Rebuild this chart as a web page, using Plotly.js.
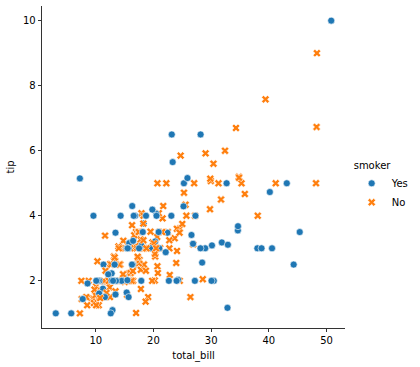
<!DOCTYPE html>
<html><head><meta charset="utf-8">
<script src="https://cdn.plot.ly/plotly-3.0.1.min.js"></script>
<style>html,body{margin:0;padding:0;background:#fff}#chart{width:420px;height:367px}</style>
</head><body><div id="chart"></div>
<script>
const totalBill = [16.99,10.34,21.01,23.68,24.59,25.29,8.77,26.88,15.04,14.78,
10.27,35.26,15.42,18.43,14.83,21.58,10.33,16.29,16.97,20.65,
17.92,20.29,15.77,39.42,19.82,17.81,13.37,12.69,21.7,19.65,
9.55,18.35,15.06,20.69,17.78,24.06,16.31,16.93,18.69,31.27,
16.04,17.46,13.94,9.68,30.4,18.29,22.23,32.4,28.55,18.04,
12.54,10.29,34.81,9.94,25.56,19.49,38.01,26.41,11.24,48.27,
20.29,13.81,11.02,18.29,17.59,20.08,16.45,3.07,20.23,15.01,
12.02,17.07,26.86,25.28,14.73,10.51,17.92,27.2,22.76,17.29,
19.44,16.66,10.07,32.68,15.98,34.83,13.03,18.28,24.71,21.16,
28.97,22.49,5.75,16.32,22.75,40.17,27.28,12.03,21.01,12.46,
11.35,15.38,44.3,22.42,20.92,15.36,20.49,25.21,18.24,14.31,
14.0,7.25,38.07,23.95,25.71,17.31,29.93,10.65,12.43,24.08,
11.69,13.42,14.26,15.95,12.48,29.8,8.52,14.52,11.38,22.82,
19.08,20.27,11.17,12.26,18.26,8.51,10.33,14.15,16.0,13.16,
17.47,34.3,41.19,27.05,16.43,8.35,18.64,11.87,9.78,7.51,
14.07,13.13,17.26,24.55,19.77,29.85,48.17,25.0,13.39,16.49,
21.5,12.66,16.21,13.81,17.51,24.52,20.76,31.71,10.59,10.63,
50.81,15.81,7.25,31.85,16.82,32.9,17.89,14.48,9.6,34.63,
34.65,23.33,45.35,23.17,40.55,20.69,20.9,30.46,18.15,23.1,
15.69,19.81,28.44,15.48,16.58,7.56,10.34,43.11,13.0,13.51,
18.71,12.74,13.0,16.4,20.53,16.47,26.59,38.73,24.27,12.76,
30.06,25.89,48.33,13.27,28.17,12.9,28.15,11.59,7.74,30.14,
12.16,13.42,8.58,15.98,13.42,16.27,10.09,20.45,13.28,22.12,
24.01,15.69,11.61,10.77,15.53,10.07,12.6,32.83,35.83,29.03,
27.18,22.67,17.82,18.78];
const tip = [1.01,1.66,3.5,3.31,3.61,4.71,2.0,3.12,1.96,3.23,
1.71,5.0,1.57,3.0,3.02,3.92,1.67,3.71,3.5,3.35,
4.08,2.75,2.23,7.58,3.18,2.34,2.0,2.0,4.3,3.0,
1.45,2.5,3.0,2.45,3.27,3.6,2.0,3.07,2.31,5.0,
2.24,2.54,3.06,1.32,5.6,3.0,5.0,6.0,2.05,3.0,
2.5,2.6,5.2,1.56,4.34,3.51,3.0,1.5,1.76,6.73,
3.21,2.0,1.98,3.76,2.64,3.15,2.47,1.0,2.01,2.09,
1.97,3.0,3.14,5.0,2.2,1.25,3.08,4.0,3.0,2.71,
3.0,3.4,1.83,5.0,2.03,5.17,2.0,4.0,5.85,3.0,
3.0,3.5,1.0,4.3,3.25,4.73,4.0,1.5,3.0,1.5,
2.5,3.0,2.5,3.48,4.08,1.64,4.06,4.29,3.76,4.0,
3.0,1.0,4.0,2.55,4.0,3.5,5.07,1.5,1.8,2.92,
2.31,1.68,2.5,2.0,2.52,4.2,1.48,2.0,2.0,2.18,
1.5,2.83,1.5,2.0,3.25,1.25,2.0,2.0,2.0,2.75,
3.5,6.7,5.0,5.0,2.3,1.5,1.36,1.63,1.73,2.0,
2.5,2.0,2.74,2.0,2.0,5.14,5.0,3.75,2.61,2.0,
3.5,2.5,2.0,2.0,3.0,3.48,2.24,4.5,1.61,2.0,
10.0,3.16,5.15,3.18,4.0,3.11,2.0,2.0,4.0,3.55,
3.68,5.65,3.5,6.5,3.0,5.0,3.5,2.0,3.5,4.0,
1.5,4.19,2.56,2.02,4.0,1.44,2.0,5.0,2.0,2.0,
4.0,2.01,2.0,2.5,4.0,3.23,3.41,3.0,2.03,2.23,
2.0,5.16,9.0,2.5,6.5,1.1,3.0,1.5,1.44,3.09,
2.2,3.48,1.92,3.0,1.58,2.5,2.0,3.0,2.72,2.88,
2.0,3.0,3.39,1.47,3.0,1.25,1.0,1.17,4.67,5.92,
2.0,2.0,1.75,3.0];
const smoker = [
"No","No","No","No","No","No","No","No","No","No",
"No","No","No","No","No","No","No","No","No","No",
"No","No","No","No","No","No","No","No","No","No",
"No","No","No","No","No","No","No","No","No","No",
"No","No","No","No","No","No","No","No","No","No",
"No","No","No","No","No","No","Yes","No","Yes","No",
"Yes","Yes","Yes","Yes","No","No","No","Yes","No","Yes",
"No","No","Yes","Yes","No","No","Yes","No","No","No",
"Yes","No","No","Yes","No","No","No","No","No","No",
"Yes","No","Yes","Yes","No","Yes","Yes","Yes","Yes","No",
"Yes","Yes","Yes","Yes","No","Yes","Yes","Yes","No","Yes",
"No","No","No","No","No","No","No","No","No","No",
"No","No","No","No","No","No","No","No","No","No",
"No","No","No","No","No","No","No","No","Yes","No",
"No","No","No","No","No","No","No","No","No","No",
"No","No","No","No","No","No","No","No","No","No",
"No","No","No","No","Yes","No","No","No","Yes","Yes",
"Yes","Yes","Yes","Yes","Yes","Yes","Yes","Yes","Yes","Yes",
"Yes","Yes","Yes","Yes","Yes","No","Yes","Yes","Yes","Yes",
"Yes","Yes","Yes","Yes","Yes","No","Yes","Yes","Yes","Yes",
"Yes","Yes","Yes","Yes","Yes","Yes","Yes","Yes","Yes","Yes",
"Yes","Yes","No","Yes","Yes","Yes","Yes","Yes","Yes","Yes",
"Yes","Yes","Yes","No","Yes","Yes","Yes","No","No","Yes",
"Yes","Yes","No","No","Yes","No","Yes","Yes","No","No",
"Yes","Yes","No","No"];
const hueOrder = ["Yes","No"];
const xTicks = [10,20,30,40,50];
const yTicks = [2,4,6,8,10];

const colorMap = {Yes:"#1f77b4", No:"#ff7f0e"};
const symbolMap = {Yes:"circle", No:"x"};
const font = {family:"DejaVu Sans, sans-serif", size:10, color:"#000"};

const traces = [{
  type:"scatter", mode:"markers", x:totalBill, y:tip, showlegend:false, hoverinfo:"skip",
  marker:{size:7, color:smoker.map(s=>colorMap[s]), symbol:smoker.map(s=>symbolMap[s]),
          line:{color:"#fff", width:0.6}}
}];
hueOrder.forEach(h=>traces.push({
  type:"scatter", mode:"markers", x:[null], y:[null], name:h,
  marker:{size:7, color:colorMap[h], symbol:symbolMap[h], line:{color:"#fff", width:0.6}}
}));

const xmin = Math.min(...totalBill), xmax = Math.max(...totalBill);
const ymin = Math.min(...tip), ymax = Math.max(...tip);
const xm = (xmax-xmin)*0.05, ym = (ymax-ymin)*0.05;

const layout = {
  width:420, height:367, margin:{l:41.5, r:57.7, t:5.7, b:39},
  paper_bgcolor:"#fff", plot_bgcolor:"#fff", font:font,
  xaxis:{range:[xmin-xm, xmax+xm], tickvals:xTicks, ticktext:xTicks.map(String),
    showgrid:false, zeroline:false, showline:true, linecolor:"#000", linewidth:0.8,
    ticks:"outside", ticklen:3.5, tickwidth:0.8, tickcolor:"#000", tickfont:font,
    title:{text:"total_bill", font:font, standoff:6}},
  yaxis:{range:[ymin-ym, ymax+ym], tickvals:yTicks, ticktext:yTicks.map(String),
    showgrid:false, zeroline:false, showline:true, linecolor:"#000", linewidth:0.8,
    ticks:"outside", ticklen:3.5, tickwidth:0.8, tickcolor:"#000", tickfont:font,
    title:{text:"tip", font:font, standoff:6}},
  legend:{x:1.022, xanchor:"left", y:0.44, yanchor:"middle", font:font,
    title:{text:"smoker", font:font}, bgcolor:"rgba(0,0,0,0)", tracegroupgap:0, itemwidth:30}
};
Plotly.newPlot("chart", traces, layout, {staticPlot:true, displayModeBar:false});
</script></body></html>
